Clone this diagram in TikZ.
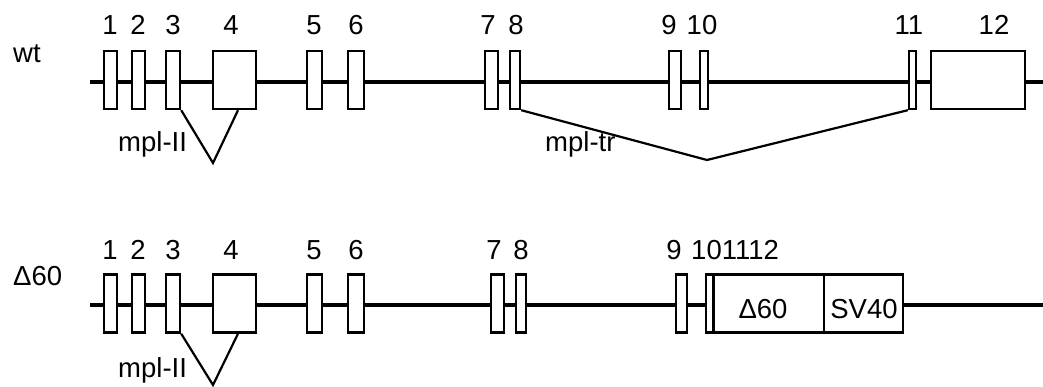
\documentclass[tikz,border=0pt]{standalone}
\usepackage{fontspec}
\setmainfont{Liberation Sans}
\begin{document}
\begin{tikzpicture}[x=1pt,y=-1pt,
  exon/.style={draw, fill=white, line width=2.4pt, inner sep=0pt, rectangle, minimum height=58pt},
  backbone/.style={line width=3.8pt},
  splice/.style={line width=2.2pt, line join=miter},
  lbl/.style={inner sep=0pt, font=\fontsize{27.5}{32}\selectfont},
  intext/.style={font=\fontsize{27.5}{32}\selectfont}
]
\useasboundingbox (0,0) rectangle (1043,387);

% ---------- wt row ----------
\coordinate (s1) at (90,82);
\coordinate (t1) at (1043,82);
\draw[backbone] (s1) -- (t1);

\node[exon, minimum width=13pt] (e1) at (110.5,80) {};
\node[exon, minimum width=13pt] (e2) at (138.5,80) {};
\node[exon, minimum width=14pt] (e3) at (173,80) {};
\node[exon, minimum width=43pt] (e4) at (234.5,80) {};
\node[exon, minimum width=15pt] (e5) at (314.5,80) {};
\node[exon, minimum width=16pt] (e6) at (356,80) {};
\node[exon, minimum width=13pt] (e7) at (491.5,80) {};
\node[exon, minimum width=10pt] (e8) at (515,80) {};
\node[exon, minimum width=12pt] (e9) at (675,80) {};
\node[exon, minimum width=8pt] (e10) at (704,80) {};
\node[exon, minimum width=7pt] (e11) at (912.5,80) {};
\node[exon, minimum width=94pt] (e12) at (978,80) {};

\node[lbl, anchor=base] (l1) at (110,35) {1};
\node[lbl, anchor=base] (l2) at (138,35) {2};
\node[lbl, anchor=base] (l3) at (173,35) {3};
\node[lbl, anchor=base] (l4) at (231,35) {4};
\node[lbl, anchor=base] (l5) at (314,35) {5};
\node[lbl, anchor=base] (l6) at (356,35) {6};
\node[lbl, anchor=base] (l7) at (488,35) {7};
\node[lbl, anchor=base] (l8) at (516,35) {8};
\node[lbl, anchor=base] (l9) at (669,35) {9};
\node[lbl, anchor=base] (l10) at (702,35) {10};
\node[lbl, anchor=base] (l11) at (909,35) {11};
\node[lbl, anchor=base] (l12) at (994,35) {12};

\node[lbl, anchor=base west] (wt) at (13,63) {wt};

\coordinate (v1) at (213,163);
\draw[splice] (e3.south east) -- (v1) -- ([xshift=3.5pt]e4.south);
\node[lbl, anchor=base west] (m1) at (118,152) {mpl-II};

\coordinate (v2) at (707,160);
\draw[splice] (e8.south east) -- (v2) -- (e11.south west);
\node[lbl, anchor=base west] (m2) at (545,152) {mpl-tr};

% ---------- Delta60 row ----------
\coordinate (s2) at (90,305);
\coordinate (t2) at (1043,305);
\draw[backbone] (s2) -- (t2);

\node[exon, minimum width=13pt] (b1) at (110.5,303.5) {};
\node[exon, minimum width=13pt] (b2) at (138.5,303.5) {};
\node[exon, minimum width=14pt] (b3) at (173,303.5) {};
\node[exon, minimum width=43pt] (b4) at (234.5,303.5) {};
\node[exon, minimum width=15pt] (b5) at (314.5,303.5) {};
\node[exon, minimum width=16pt] (b6) at (356,303.5) {};
\node[exon, minimum width=13pt] (b7) at (497.5,303.5) {};
\node[exon, minimum width=10pt] (b8) at (521,303.5) {};
\node[exon, minimum width=11pt] (b9) at (681.5,303.5) {};
\node[exon, minimum width=7pt] (b10) at (709.5,303.5) {};
\node[exon, minimum width=110pt] (bD) at (769,303.5) {};
\node[exon, minimum width=79pt] (bS) at (863.5,303.5) {};
\node[lbl, anchor=base] (tD) at (763,318) {Δ60};
\node[lbl, anchor=base] (tS) at (864,318) {SV40};

\node[lbl, anchor=base] (k1) at (110,259) {1};
\node[lbl, anchor=base] (k2) at (138,259) {2};
\node[lbl, anchor=base] (k3) at (173,259) {3};
\node[lbl, anchor=base] (k4) at (231,259) {4};
\node[lbl, anchor=base] (k5) at (314,259) {5};
\node[lbl, anchor=base] (k6) at (356,259) {6};
\node[lbl, anchor=base] (k7) at (494,259) {7};
\node[lbl, anchor=base] (k8) at (521,259) {8};
\node[lbl, anchor=base] (k9) at (674,259) {9};
\node[lbl, anchor=base west] (k10) at (691,259) {101112};

\node[lbl, anchor=base west] (d60) at (13,285) {Δ60};

\coordinate (v3) at (213,385);
\draw[splice] (b3.south east) -- (v3) -- ([xshift=3.5pt]b4.south);
\node[lbl, anchor=base west] (m3) at (118,377) {mpl-II};
\end{tikzpicture}
\end{document}
